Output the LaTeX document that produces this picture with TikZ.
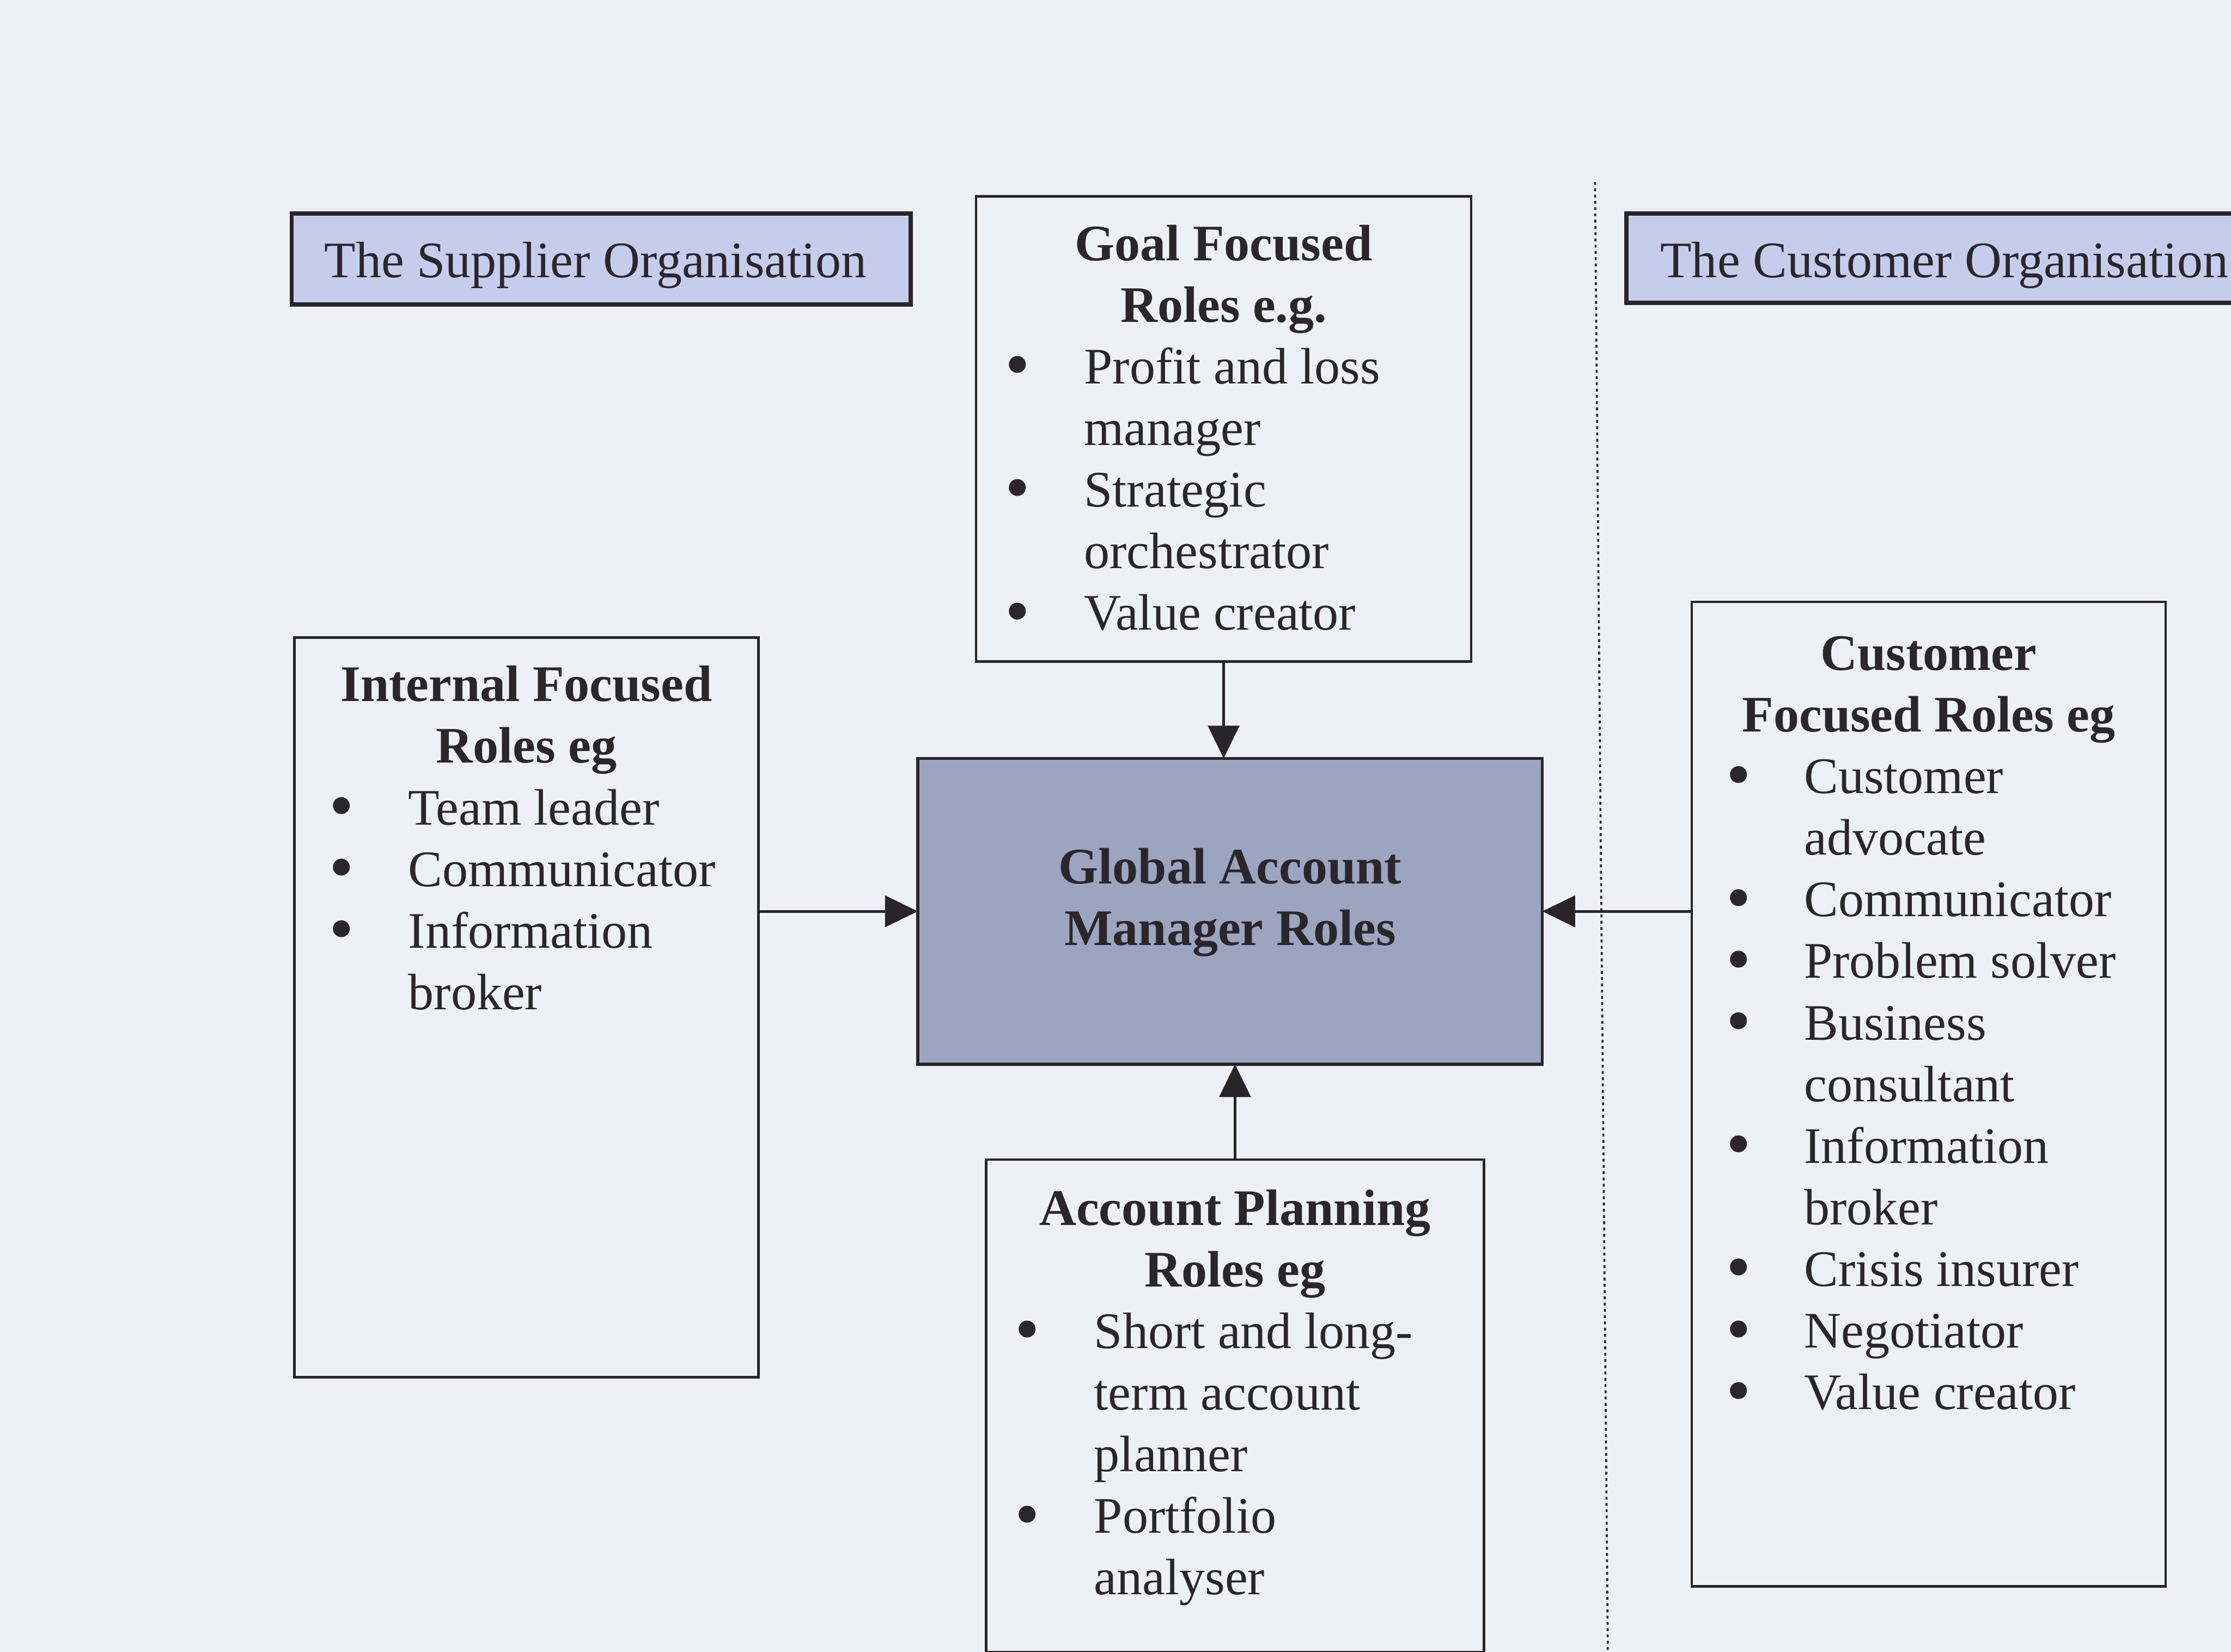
\documentclass[tikz,border=0pt]{standalone}
\usepackage{fontspec}
\setmainfont{Liberation Serif}
\usetikzlibrary{arrows.meta,calc}

\definecolor{paper}{RGB}{238,240,247}
\definecolor{ink}{RGB}{42,38,44}
\definecolor{orgfill}{RGB}{198,205,236}
\definecolor{gamfill}{RGB}{156,164,192}
\definecolor{edge}{RGB}{40,36,40}

% indentation of the item text and of the bullet centre, measured from the box edge
\newlength{\txtind}\newlength{\bulind}
\newcommand{\bigbullet}{\smash{\raisebox{-0.09em}{\scalebox{1.38}{\textbullet}}}}
\newcommand{\rhead}[1]{{\centering\bfseries #1\par}}
\newcommand{\ritem}[1]{\hspace*{\txtind}\llap{\makebox[0pt]{\bigbullet}\hspace{\dimexpr\txtind-\bulind\relax}}#1\par}
\newcommand{\rcont}[1]{\hspace*{\txtind}#1\par}
\newcommand{\rolecontent}[4]{%
  \setlength{\txtind}{#2}\setlength{\bulind}{#3}%
  \begin{minipage}[t]{#1}\parindent=0pt\parskip=0pt #4\end{minipage}}

\tikzset{
  bigfont/.style={font=\fontsize{36pt}{43.3pt}\selectfont, text=ink},
  rolebox/.style={draw=edge, line width=1.8pt, rectangle, inner sep=0pt, outer sep=0pt, anchor=north west},
  orgbox/.style={draw=edge, line width=3pt, fill=orgfill, rectangle, inner sep=0pt, outer sep=0pt, anchor=north west},
  gambox/.style={draw=edge, line width=2pt, fill=gamfill, rectangle, inner sep=0pt, outer sep=0pt, anchor=north west},
  rtext/.style={bigfont, inner sep=0pt, outer sep=0pt, anchor=base west},
  link/.style={draw=edge, line width=1.8pt, -{Triangle[length=23pt,width=22pt]}},
  divider/.style={draw=edge, line width=1.4pt, dash pattern=on 2pt off 2.4pt},
}

\begin{document}
\begin{tikzpicture}[x=1pt,y=-1pt]
  % page
  \fill[paper] (0,0) rectangle (1568,1161);
  \useasboundingbox (0,0) rectangle (1568,1161);

  % organisation banners
  \node[orgbox, minimum width=435pt, minimum height=64pt] (supplier) at (205,150) {};
  \node[rtext] (suppliertxt) at (228,195) {The Supplier Organisation};
  \node[orgbox, minimum width=440pt, minimum height=63pt] (custorg) at (1143,150) {};
  \node[rtext] (custorgtxt) at (1167,195) {The Customer Organisation};

  % role boxes
  \node[rolebox, minimum width=348pt, minimum height=327pt] (goal) at (686,138) {};
  \node[rtext] (goaltxt) at ($(goal.north west)+(0,45)$) {\rolecontent{348pt}{76pt}{29pt}{%
    \rhead{Goal Focused\\Roles e.g.}%
    \ritem{Profit and loss}\rcont{manager}%
    \ritem{Strategic}\rcont{orchestrator}%
    \ritem{Value creator}}};

  \node[rolebox, minimum width=326pt, minimum height=520pt] (internal) at (207,448) {};
  \node[rtext] (internaltxt) at ($(internal.north west)+(0,45)$) {\rolecontent{326pt}{80pt}{33pt}{%
    \rhead{Internal Focused\\Roles eg}%
    \ritem{Team leader}%
    \ritem{Communicator}%
    \ritem{Information}\rcont{broker}}};

  \node[rolebox, minimum width=333pt, minimum height=692pt] (customer) at (1189,423) {};
  \node[rtext] (customertxt) at ($(customer.north west)+(0,48)$) {\rolecontent{333pt}{79pt}{33pt}{%
    \rhead{Customer\\Focused Roles eg}%
    \ritem{Customer}\rcont{advocate}%
    \ritem{Communicator}%
    \ritem{Problem solver}%
    \ritem{Business}\rcont{consultant}%
    \ritem{Information}\rcont{broker}%
    \ritem{Crisis insurer}%
    \ritem{Negotiator}%
    \ritem{Value creator}}};

  \node[rolebox, minimum width=350pt, minimum height=346pt] (account) at (693,815) {};
  \node[rtext] (accounttxt) at ($(account.north west)+(0,46)$) {\rolecontent{350pt}{76pt}{29pt}{%
    \rhead{Account Planning\\Roles eg}%
    \ritem{Short and long-}\rcont{term account}\rcont{planner}%
    \ritem{Portfolio}\rcont{analyser}}};

  % central box
  \node[gambox, minimum width=439pt, minimum height=215pt] (gam) at (645,533) {};
  \node[rtext] (gamtxt) at ($(gam.north west)+(0,88)$) {\rolecontent{439pt}{0pt}{0pt}{%
    \rhead{Global Account\\Manager Roles}}};

  % boundary between the two organisations
  \coordinate (divtop) at (1121,128);
  \coordinate (divbot) at (1130,1161);
  \draw[divider] (divtop) -- (divbot);

  % connectors into the central box
  \draw[link] (goal.south) -- (goal.south |- gam.north);
  \draw[link] (internal.east |- gam.west) -- (gam.west);
  \draw[link] (customer.west |- gam.east) -- (gam.east);
  \draw[link] (account.north) -- (account.north |- gam.south);
\end{tikzpicture}
\end{document}
